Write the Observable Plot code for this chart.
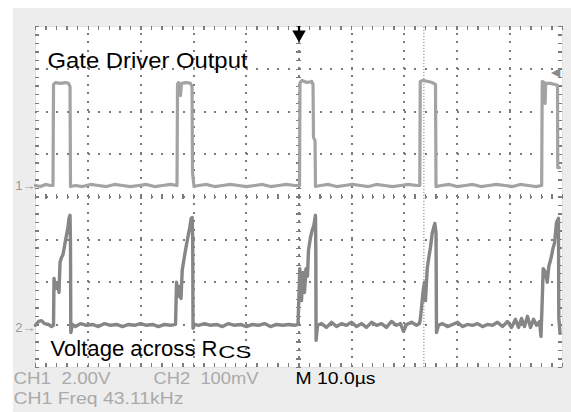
<!DOCTYPE html>
<html><head><meta charset="utf-8">
<script src="https://cdn.jsdelivr.net/npm/d3@7"></script>
<script src="https://cdn.jsdelivr.net/npm/@observablehq/plot@0.6"></script>
<style>
html,body{margin:0;padding:0;background:#fff;}
#wrap{position:relative;width:571px;height:412px;overflow:hidden;}
#bg{position:absolute;left:13px;top:8px;right:0;bottom:0;background:#ededed;}
#chart{position:absolute;left:0;top:0;}
</style></head><body>
<div id="wrap"><div id="bg"></div><div id="chart"></div></div>
<script>
// ---- Data (time in µs, CH1 gate voltage in V, CH2 current-sense voltage in mV) ----
const gateSamples = [
  [0,0],[0.95,-0.05],[1.9,0.05],[2.85,0],[3.32,0],[3.42,4.74],[3.8,4.83],[4.74,4.79],[5.69,4.83],[6.26,4.79],[6.55,4.65],[6.64,-0.05],
  [7.59,0],[8.92,-0.05],[10.44,0.05],[11.95,0],[13.47,-0.05],[14.99,0.05],[16.51,0],[18.03,-0.05],[19.54,0],[21.06,0.05],[22.58,-0.05],[24.1,0],[25.62,0.05],[26.85,0],
  [26.95,4.74],[27.13,4.83],[27.51,4.22],[27.7,4.79],[28.65,4.83],[29.41,4.79],[29.7,4.65],[29.79,0.61],[30.08,-0.05],
  [30.93,0],[32.45,0.05],[33.97,-0.05],[35.48,0],[37.0,0.05],[38.52,0],[40.04,-0.05],[41.56,0],[43.07,0.05],[44.59,-0.05],[46.11,0],[47.63,0.05],[49.15,0],[50.1,0],
  [50.19,4.83],[50.6,4.93],[51.5,4.83],[52.4,4.88],[52.66,4.74],[52.75,2.25],[53.04,2.11],[53.13,-0.05],
  [54.08,0],[55.6,0.05],[57.12,-0.05],[58.63,0],[60.15,0.05],[61.67,0],[63.19,-0.05],[64.71,0.05],[66.22,0],[67.74,-0.05],[69.26,0],[70.78,0.05],[72.3,0],[72.92,0],
  [73.01,4.88],[73.5,4.93],[74.5,4.88],[75.3,4.83],[75.9,4.74],[76.0,-0.05],
  [77.0,0],[78.5,0.05],[80.0,-0.05],[81.5,0],[83.0,0.05],[84.5,-0.05],[86.0,0],[87.5,0.05],[89.0,0],[90.5,-0.05],[92.0,0.05],[93.5,0],[95.0,-0.05],[96.05,0],
  [96.15,4.88],[96.5,4.83],[96.6,4.83],[96.7,3.85],[96.8,4.79],[97.7,4.79],[98.6,4.74],[99.05,4.7],[99.1,0.84],[99.45,0.84]
];
const senseSamples = [
  [0,5],[0.57,14],[1.14,16],[1.71,9],[2.47,7],[3.04,2],[3.42,5],
  [3.51,115],[3.8,91],[4.17,103],[4.46,82],[4.65,152],[4.93,164],[5.22,171],[5.5,190],[5.69,204],[5.98,223],[6.17,237],[6.36,256],[6.55,263],[6.64,192],[6.7,-12],[7.02,7],
  [7.59,2],[8.54,9],[9.68,5],[10.82,7],[11.95,2],[13.09,9],[14.23,5],[15.37,7],[16.51,2],[17.65,7],[18.79,5],[19.92,9],[21.06,5],[22.2,7],[23.34,2],[24.48,7],[25.62,5],[26.57,7],
  [26.76,106],[27.04,73],[27.32,96],[27.61,68],[27.84,134],[28.14,157],[28.46,181],[28.9,211],[29.28,235],[29.54,256],[29.73,258],[29.83,204],[29.89,-2],[30.17,7],
  [30.93,5],[32.07,9],[33.21,5],[34.35,7],[35.48,2],[36.62,9],[37.76,5],[38.9,7],[40.04,2],[41.18,7],[42.31,5],[43.45,9],[44.59,2],[45.73,7],[46.87,5],[48.01,7],[49.15,5],[49.81,7],
  [49.96,63],[50.15,138],[50.47,63],[50.76,129],[51.04,82],[51.33,138],[51.61,120],[51.8,181],[52.18,211],[52.5,228],[52.81,239],[53.13,263],[53.19,181],[53.24,-30],[53.51,5],
  [54.27,9],[55.22,0],[56.17,12],[57.12,2],[58.06,9],[59.01,5],[59.96,12],[60.91,2],[61.86,9],[62.81,0],[63.76,12],[64.71,5],[65.65,9],[66.6,0],[67.55,14],[68.5,5],[69.26,9],[69.83,-9],[70.4,7],[71.35,12],[72.3,5],[72.87,9],
  [73.06,23],[73.57,87],[73.81,106],[74.0,63],[74.33,138],[74.63,164],[74.95,188],[75.28,221],[75.58,235],[75.77,244],[76.0,223],[76.09,-12],[76.47,5],
  [77.23,9],[78.18,2],[79.13,7],[80.08,12],[81.02,2],[81.97,7],[82.92,5],[83.87,9],[84.82,2],[85.77,7],[86.72,5],[87.67,12],[88.61,2],[89.56,14],[90.32,0],[91.08,19],[91.65,0],[92.22,21],[92.79,2],[93.36,26],[93.93,0],[94.5,19],[95.07,5],[95.64,14],[95.92,-21],
  [96.15,63],[96.34,138],[96.77,129],[97.1,106],[97.4,143],[97.86,164],[98.24,188],[98.48,197],[98.86,246],[99.24,256],[99.3,23],[99.53,-14]
];
// scope settings
const timePerDiv = 10;           // µs / div
const ch1VoltsPerDiv = 2;        // V / div
const ch2MilliVoltsPerDiv = 100; // mV / div
const ch1Offset = 0.27;          // divisions
const ch2Offset = -3.06;         // divisions
const triggerTime = 50;          // µs
const triggerLevel = 5.3;        // V (CH1)
const cursorTime = 73.7;         // µs
// text
const titleTop = "Gate Driver Output";
const titleBottom = "Voltage across R";
const titleBottomSub = "CS";
const statusCh1 = "CH1\u00a0\u00a02.00V";
const statusCh2 = "CH2\u00a0\u00a0100mV";
const statusTime = "M 10.0µs";
const statusFreq = "CH1 Freq 43.11kHz";

// ---- Derived ----
const W = 571, H = 412, mL = 35, mR = 9, mT = 26, mB = 45;
const gate = gateSamples.map(([t, v]) => ({t, y: ch1Offset + v / ch1VoltsPerDiv}));
const sense = senseSamples.map(([t, mv]) => ({t, y: ch2Offset + mv / ch2MilliVoltsPerDiv}));
const xMinor = d3.range(0, 10 * timePerDiv + 0.001, timePerDiv / 5);
const yMinor = d3.range(-4, 4.001, 0.2);
const xMajor = d3.range(1, 10).map(i => i * timePerDiv);
const yMajor = d3.range(-3, 4);
const stepY = (H - mT - mB) / 40;
const stepX = (W - mL - mR) / 50;
const dotLen = 2;
const vDash = `${dotLen},${stepY - dotLen}`;
const hDash = `${dotLen},${stepX - dotLen}`;

const gridCol = "#7c7c7c";
const chart = Plot.plot({
  width: W, height: H,
  marginLeft: mL, marginRight: mR, marginTop: mT, marginBottom: mB,
  x: {domain: [0, 10 * timePerDiv], axis: null},
  y: {domain: [-4, 4], axis: null},
  style: {background: "transparent", fontFamily: "'Liberation Sans', Arial, sans-serif"},
  marks: [
    Plot.frame({fill: "#fff", stroke: "#e0e0e0"}),
    // dotted graticule
    Plot.ruleX(xMajor, {x: d => d, y1: -4, y2: 4, stroke: gridCol, strokeWidth: 2, strokeDasharray: vDash, shapeRendering: "crispEdges"}),
    Plot.ruleY(yMajor, {y: d => d, x1: 0, x2: 100, stroke: gridCol, strokeWidth: 2, strokeDasharray: hDash, shapeRendering: "crispEdges"}),
    // edge ticks
    Plot.ruleX(xMinor, {x: d => d, y1: 4, y2: 3.9, stroke: gridCol, strokeWidth: 1.4, shapeRendering: "crispEdges"}),
    Plot.ruleX(xMinor, {x: d => d, y1: -4, y2: -3.9, stroke: gridCol, strokeWidth: 1.4, shapeRendering: "crispEdges"}),
    Plot.ruleY(yMinor, {y: d => d, x1: 0, x2: 0.75, stroke: gridCol, strokeWidth: 1.4, shapeRendering: "crispEdges"}),
    Plot.ruleY(yMinor, {y: d => d, x1: 100, x2: 99.25, stroke: gridCol, strokeWidth: 1.4, shapeRendering: "crispEdges"}),
    // centre cross ticks
    Plot.ruleX(xMinor, {x: d => d, y1: -0.07, y2: 0.07, stroke: gridCol, strokeWidth: 1.2, shapeRendering: "crispEdges"}),
    Plot.ruleY(yMinor, {y: d => d, x1: 49.55, x2: 50.45, stroke: gridCol, strokeWidth: 1.2, shapeRendering: "crispEdges"}),
    // cursor
    Plot.ruleX([cursorTime], {x: d => d, y1: -4, y2: 4, stroke: "#808080", strokeDasharray: "1.2,1.8"}),
    // traces
    Plot.line(gate, {x: "t", y: "y", stroke: "#a3a3a3", strokeWidth: 3.2, strokeLinejoin: "round"}),
    Plot.line(sense, {x: "t", y: "y", stroke: "#868686", strokeWidth: 3.4, strokeLinejoin: "round"}),
    // trigger markers
    Plot.ruleX([triggerTime], {x: d => d, y1: 4, y2: 3.86, stroke: "#000", strokeWidth: 2.2}),
    Plot.dot([triggerTime], {x: d => d, y: 4, dy: 8, symbol: "triangle", rotate: 180, r: 5, fill: "#000", stroke: "none"}),
    Plot.text([triggerLevel], {x: 100, y: d => ch1Offset + d / ch1VoltsPerDiv, text: () => "◀", textAnchor: "end", dx: -3, fontSize: 12, fill: "#8a8a8a"}),
    // channel markers
    Plot.text([ch1Offset, ch2Offset], {x: 0, y: d => d, text: (d, i) => (i + 1) + "→", textAnchor: "end", dx: 0, fontSize: 13, fill: "#999"}),
    // labels
    Plot.text([titleTop], {x: 2.28, y: 3.03, text: d => d, textAnchor: "start", lineAnchor: "bottom", fontSize: 22, fill: "#000"}),
    Plot.text([titleBottom], {x: 2.85, y: -3.73, text: d => d, textAnchor: "start", lineAnchor: "bottom", fontSize: 22, fill: "#000"}),
    Plot.text([titleBottomSub], {x: 34.7, y: -3.78, text: d => d, textAnchor: "start", lineAnchor: "bottom", fontSize: 17, fill: "#000"}),
    // status
    Plot.text([statusCh1], {x: -4.17, y: -4.39, text: d => d, textAnchor: "start", lineAnchor: "bottom", fontSize: 16, fill: "#aaa"}),
    Plot.text([statusCh2], {x: 22.39, y: -4.39, text: d => d, textAnchor: "start", lineAnchor: "bottom", fontSize: 16, fill: "#aaa"}),
    Plot.text([statusTime], {x: 49.34, y: -4.39, text: d => d, textAnchor: "start", lineAnchor: "bottom", fontSize: 16, fill: "#000"}),
    Plot.text([statusFreq], {x: -4.17, y: -4.86, text: d => d, textAnchor: "start", lineAnchor: "bottom", fontSize: 16, fill: "#aaa"})
  ]
});
const fit = new Map([[titleTop, 200], [titleBottom, 167], [titleBottomSub, 33], [statusCh1, 97], [statusCh2, 105], [statusTime, 80], [statusFreq, 170]]);
d3.select(chart).selectAll("text").each(function () {
  const s = this.textContent;
  if (fit.has(s)) { this.setAttribute("textLength", fit.get(s)); this.setAttribute("lengthAdjust", "spacingAndGlyphs"); }
});
document.getElementById("chart").appendChild(chart);
</script>
</body></html>
